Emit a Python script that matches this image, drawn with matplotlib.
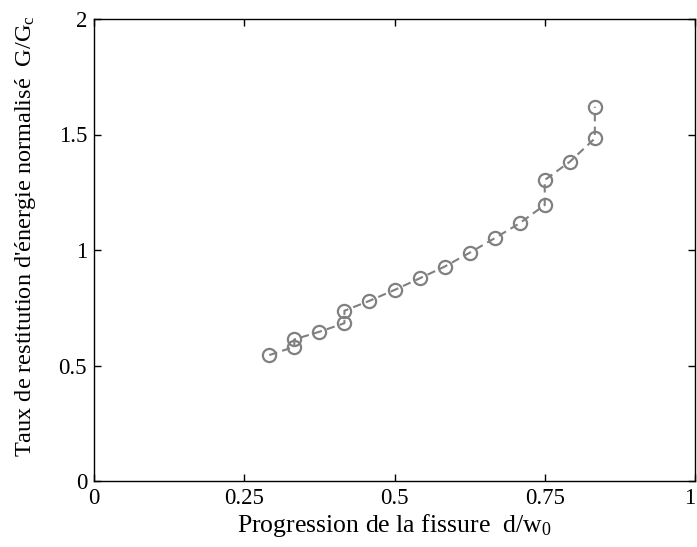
import matplotlib
matplotlib.use("Agg")
import matplotlib.pyplot as plt

plt.rcParams['font.family'] = ['Liberation Serif', 'DejaVu Serif']
plt.rcParams['mathtext.fontset'] = 'custom'
plt.rcParams['mathtext.rm'] = 'Liberation Serif'
plt.rcParams['mathtext.it'] = 'Liberation Serif'
plt.rcParams['mathtext.default'] = 'regular'

# crack progression d/w0 and normalized energy release rate G/Gc
d_w0 = [7/24, 8/24, 8/24, 9/24, 10/24, 10/24, 11/24, 12/24, 13/24, 14/24,
        15/24, 16/24, 17/24, 18/24, 18/24, 19/24, 20/24, 20/24]
G_Gc = [0.545, 0.581, 0.613, 0.646, 0.683, 0.737, 0.780, 0.827, 0.877, 0.928,
        0.988, 1.051, 1.116, 1.195, 1.303, 1.382, 1.483, 1.620]

xticks = [0, 0.25, 0.5, 0.75, 1]
xticklabels = ['0', '0.25', '0.5', '0.75', '1']
yticks = [0, 0.5, 1, 1.5, 2]
yticklabels = ['0', '0.5', '1', '1.5', '2']

fig = plt.figure(figsize=(6.97, 5.47), dpi=100)
ax = fig.add_axes([94/697, 1 - 481/547, (695 - 94)/697, (481 - 19)/547])

ax.plot(d_w0, G_Gc, linestyle=(0, (4, 2.5)), color='#808080', linewidth=1.5,
        marker='o', markersize=9.5, markerfacecolor='none',
        markeredgecolor='#808080', markeredgewidth=1.6)

ax.set_xlim(0, 1)
ax.set_ylim(0, 2)
ax.set_xticks(xticks)
ax.set_xticklabels(xticklabels)
ax.set_yticks(yticks)
ax.set_yticklabels(yticklabels)
ax.tick_params(direction='in', top=True, right=True, length=5, width=1,
               labelsize=16.5, pad=5)
ax.get_xticklabels()[-1].set_horizontalalignment('right')
for s in ax.spines.values():
    s.set_linewidth(1)

ax.set_xlabel('Progression de la fissure  d/w$_0$', fontsize=18.5, labelpad=2)
ax.set_ylabel("Taux de restitution d'énergie normalisé  G/G$_c$", fontsize=17.5)
ax.yaxis.set_label_coords(-0.093, 0.53)

fig.savefig('out.png', dpi=100)
